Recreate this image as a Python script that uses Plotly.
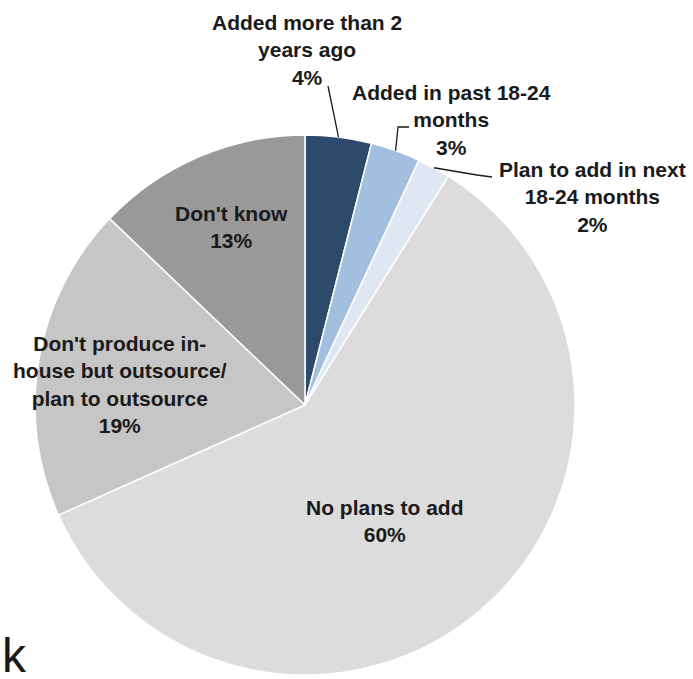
import math
import plotly.graph_objects as go

# Share of respondents by status (clockwise from 12 o'clock)
categories = [
    "Added more than 2<br>years ago",
    "Added in past 18-24<br>months",
    "Plan to add in next<br>18-24 months",
    "No plans to add",
    "Don't produce in-<br>house but outsource/<br>plan to outsource",
    "Don't know",
]
values = [4, 3, 2, 60, 19, 13]
colors = ["#2d4a6d", "#a3bfdf", "#dfe8f2", "#dcdcdc", "#c6c6c6", "#999999"]

W, H = 693, 679
CX, CY, R = 305, 405, 270  # pie centre and radius in pixels


def px(x):
    return x / W


def py(y):
    return 1 - y / H


fig = go.Figure(
    go.Pie(
        labels=categories,
        values=values,
        marker=dict(colors=colors, line=dict(color="white", width=1.5)),
        sort=False,
        direction="clockwise",
        rotation=0,
        textinfo="none",
        hoverinfo="skip",
        showlegend=False,
        domain=dict(x=[px(CX - R), px(CX + R)], y=[py(CY + R), py(CY - R)]),
    )
)

# Label placement (pixel centres) for each slice
label_pos = [(307, 50), (451, 120), (592, 197), (385, 521), (120, 384), (231, 227)]
label_font = dict(family="Liberation Sans, Arial, sans-serif", size=21, color="#1a1a1a", weight="bold")

total = sum(values)
for name, v, (lx, ly) in zip(categories, values, label_pos):
    fig.add_annotation(
        x=px(lx), y=py(ly), xref="paper", yref="paper",
        text=f"{name}<br>{v}%", showarrow=False,
        xanchor="center", yanchor="middle", align="center",
        font=label_font,
    )


# Leader lines from the outer edge of the three thin slices to their labels
def edge_point(idx):
    start = sum(values[:idx]) / total * 360
    mid = math.radians(start + values[idx] / total * 360 / 2)
    return CX + R * math.sin(mid), CY - R * math.cos(mid)


leader_bends = {
    0: [(328, 86)],
    1: [(398, 127), (409, 127)],
    2: [(477, 175), (492, 177)],
}
for idx, pts in leader_bends.items():
    ex, ey = edge_point(idx)
    path = f"M {px(ex)},{py(ey)}" + "".join(f" L {px(x)},{py(y)}" for x, y in pts)
    fig.add_shape(type="path", path=path, xref="paper", yref="paper",
                  line=dict(color="#1a1a1a", width=1.3))

# Heading fragment at the lower left
fig.add_annotation(
    x=0, y=py(655), xref="paper", yref="paper", text="k", showarrow=False,
    xanchor="left", yanchor="middle",
    font=dict(family="Liberation Sans, Arial, sans-serif", size=48, color="#1a1a1a"),
)

fig.update_layout(
    width=W, height=H,
    margin=dict(l=0, r=0, t=0, b=0),
    paper_bgcolor="white", plot_bgcolor="white",
)

fig.write_html("out.html")
